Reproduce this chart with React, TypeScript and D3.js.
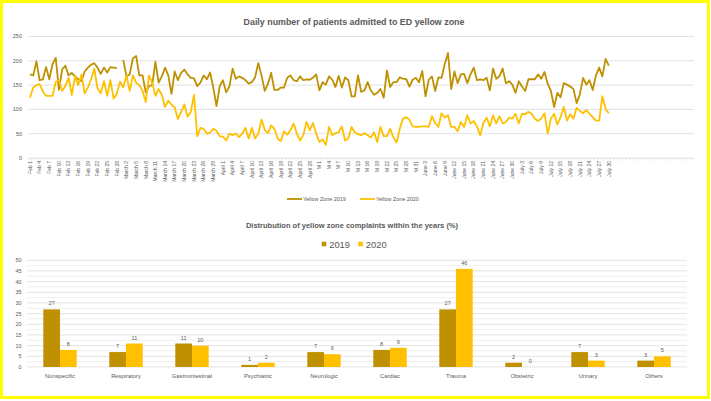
import React, { useEffect, useRef } from "react";
import * as d3 from "d3";

const dateLabels = [
  "Feb 1", "Feb 4", "Feb 7", "Feb 10", "Feb 13", "Feb 16", "Feb 19", "Feb 22", "Feb 25", "Feb 28",
  "March 2", "March 5", "March 8", "March 11", "March 14", "March 17", "March 20", "March 23", "March 26", "March 29",
  "April 1", "April 4", "April 7", "April 10", "April 13", "April 16", "April 19", "April 22", "April 25", "April 28",
  "M 1", "M 4", "M 7", "M 10", "M 13", "M 16", "M 19", "M 22", "M 25", "M 28", "M 31",
  "June 3", "June 6", "June 9", "June 12", "June 15", "June 18", "June 21", "June 24", "June 27", "June 30",
  "July 3", "July 6", "July 9", "July 12", "July 15", "July 18", "July 21", "July 24", "July 27", "July 30",
];

const zone2019: (number | null)[] = [
  172, 170, 199, 160, 162, 187, 162, 193, 206, 140,
  182, 190, 170, 175, 168, 162, 158, 178, 186, 192,
  195, 186, 173, 186, 176, 187, 186, 185, null, 202,
  168, 172, 205, 210, 170, 170, 135, 148, 150, 198,
  155, 168, 186, 170, 132, 178, 160, 175, 182, 172,
  165, 164, 148, 155, 170, 162, 176, 145, 107, 148,
  160, 135, 147, 184, 163, 168, 165, 160, 153, 156,
  166, 195, 170, 138, 153, 175, 140, 140, 145, 145,
  165, 170, 160, 158, 168, 160, 162, 161, 165, 172,
  139, 156, 151, 168, 161, 146, 169, 145, 166, 160,
  127, 127, 170, 136, 139, 156, 139, 130, 134, 142,
  124, 180, 146, 156, 156, 166, 163, 163, 147, 161,
  165, 156, 179, 127, 161, 168, 138, 166, 165, 194,
  216, 142, 178, 154, 172, 173, 154, 172, 186, 160,
  162, 160, 165, 139, 184, 163, 168, 184, 154, 158,
  151, 134, 158, 147, 138, 162, 162, 162, 172, 163,
  177, 153, 138, 105, 134, 125, 154, 151, 147, 142,
  113, 131, 165, 151, 160, 140, 170, 186, 168, 204,
  190,
];

const zone2020: (number | null)[] = [
  124, 145, 150, 152, 137, 128, 128, 128, 157, 160,
  138, 148, 165, 130, 168, 150, 172, 133, 145, 162,
  184, 143, 133, 158, 128, 160, 122, 132, 157, 145,
  170, 138, 170, 155, 150, 138, 115, 170, 155, 128,
  142, 130, 105, 118, 110, 104, 80, 95, 110, 85,
  95, 130, 45, 62, 60, 50, 52, 60, 56, 45,
  44, 36, 50, 47, 51, 43, 50, 62, 40, 62,
  40, 50, 79, 58, 51, 67, 60, 40, 35, 55,
  48, 57, 71, 50, 36, 47, 74, 57, 72, 50,
  33, 38, 27, 64, 47, 51, 53, 65, 36, 40,
  64, 53, 49, 47, 51, 47, 42, 53, 33, 64,
  45, 45, 60, 43, 32, 60, 81, 84, 79, 65,
  64, 64, 65, 65, 64, 86, 72, 64, 92, 83,
  88, 64, 64, 55, 74, 64, 88, 71, 76, 65,
  47, 72, 83, 65, 88, 71, 86, 71, 74, 83,
  81, 91, 71, 91, 90, 95, 91, 81, 76, 81,
  92, 50, 81, 91, 69, 84, 105, 77, 90, 81,
  103, 97, 92, 99, 91, 84, 77, 77, 127, 101,
  92,
];

const lineTicks = [0, 50, 100, 150, 200, 250];
const seriesNames = ["Yellow Zone 2019", "Yellow Zone 2020"];

const complaintCats = [
  "Nonspecific", "Respiratory", "Gastrointestinal", "Psychiatric", "Neurologic",
  "Cardiac", "Trauma", "Obstetric", "Urinary", "Others",
];
const share2019 = [27, 7, 11, 1, 7, 8, 27, 2, 7, 3];
const share2020 = [8, 11, 10, 2, 6, 9, 46, 0, 3, 5];
const barTicks = [0, 5, 10, 15, 20, 25, 30, 35, 40, 45, 50];
const yearNames = ["2019", "2020"];

const C2019 = "#BF9000";
const C2020 = "#FFC000";
const TXT = "#595959";
const GRID = "#D9D9D9";
const FONT = "'Liberation Sans', Arial, sans-serif";

export default function App() {
  const ref = useRef<SVGSVGElement>(null);

  useEffect(() => {
    const svg = d3.select(ref.current!);
    svg.selectAll("*").remove();
    svg.attr("font-family", FONT);

    svg.append("rect").attr("width", 711).attr("height", 401).attr("fill", "#fff");
    svg.append("rect").attr("x", 1.5).attr("y", 1.5).attr("width", 707).attr("height", 396)
      .attr("fill", "none").attr("stroke", "#FFFF00").attr("stroke-width", 3);

    // ---------- Line chart ----------
    const nCats = 207;
    const x = d3.scaleBand<number>().domain(d3.range(nCats)).range([28.4, 694]);
    const bw = x.bandwidth();
    const px = (i: number) => (x(i) as number) + bw / 2;
    const y = d3.scaleLinear().domain([0, 250]).range([158, 36.5]);

    svg.append("text").attr("x", 354).attr("y", 24.5).attr("text-anchor", "middle")
      .attr("font-size", 8.9).attr("font-weight", "bold").attr("fill", TXT)
      .text("Daily number of patients admitted to ED yellow zone");

    const g1 = svg.append("g");
    lineTicks.forEach((t) => {
      g1.append("line").attr("x1", 28.4).attr("x2", 694).attr("y1", y(t)).attr("y2", y(t))
        .attr("stroke", GRID).attr("stroke-width", 0.8);
      g1.append("text").attr("x", 22).attr("y", y(t)).attr("dy", "0.35em").attr("text-anchor", "end")
        .attr("font-size", 5.5).attr("fill", TXT).text(t);
    });
    for (let k = 0; k <= nCats; k++) {
      const xx = 28.4 + k * bw;
      g1.append("line").attr("x1", xx).attr("x2", xx).attr("y1", y(0)).attr("y2", y(0) + 2.5)
        .attr("stroke", GRID).attr("stroke-width", 0.6);
    }
    dateLabels.forEach((lab, j) => {
      g1.append("text").attr("transform", `translate(${px(j * 3)},161) rotate(-90)`)
        .attr("dy", "0.35em").attr("text-anchor", "end").attr("font-size", 5).attr("fill", TXT).text(lab);
    });

    const line = d3.line<number | null>()
      .defined((d) => d != null)
      .x((_, i) => px(i))
      .y((d) => y(d as number));

    g1.append("path").datum(zone2019).attr("d", line).attr("fill", "none")
      .attr("stroke", C2019).attr("stroke-width", 1.8).attr("stroke-linejoin", "round");
    g1.append("path").datum(zone2020).attr("d", line).attr("fill", "none")
      .attr("stroke", C2020).attr("stroke-width", 1.8).attr("stroke-linejoin", "round");

    // line legend
    const legPos = [287, 360];
    [C2019, C2020].forEach((c, k) => {
      g1.append("line").attr("x1", legPos[k]).attr("x2", legPos[k] + 15).attr("y1", 199).attr("y2", 199)
        .attr("stroke", c).attr("stroke-width", 1.8);
      g1.append("text").attr("x", legPos[k] + 16).attr("y", 199).attr("dy", "0.35em")
        .attr("font-size", 5.4).attr("fill", TXT).text(seriesNames[k]);
    });

    // ---------- Bar chart ----------
    const xb = d3.scaleBand<string>().domain(complaintCats).range([27, 687])
      .paddingInner(0.494).paddingOuter(0.247);
    const xs = d3.scaleBand<string>().domain(yearNames).range([0, xb.bandwidth()]);
    const yb = d3.scaleLinear().domain([0, 50]).range([367, 260.3]);

    svg.append("text").attr("x", 352).attr("y", 227.5).attr("text-anchor", "middle")
      .attr("font-size", 7.5).attr("font-weight", "bold").attr("fill", TXT)
      .text("Distrubution of yellow zone complaints within the years (%)");

    const g2 = svg.append("g");
    d3.range(0, 50.01, 2.5).forEach((t) => {
      g2.append("line").attr("x1", 27).attr("x2", 687).attr("y1", yb(t)).attr("y2", yb(t))
        .attr("stroke", t % 5 === 0 ? GRID : "#E8E8E8").attr("stroke-width", 0.7);
    });
    barTicks.forEach((t) => {
      g2.append("text").attr("x", 21.5).attr("y", yb(t)).attr("dy", "0.35em").attr("text-anchor", "end")
        .attr("font-size", 5.5).attr("fill", TXT).text(t);
    });

    const series = [share2019, share2020];
    const colors = [C2019, C2020];
    complaintCats.forEach((cat, ci) => {
      const cx = (xb(cat) as number) + xb.bandwidth() / 2;
      series.forEach((s, si) => {
        const v = s[ci];
        const bx = (xb(cat) as number) + (xs(yearNames[si]) as number);
        g2.append("rect").attr("x", bx).attr("y", yb(v)).attr("width", xs.bandwidth())
          .attr("height", yb(0) - yb(v)).attr("fill", colors[si]);
        g2.append("text").attr("x", bx + xs.bandwidth() / 2).attr("y", yb(v) - 4)
          .attr("text-anchor", "middle").attr("font-size", 5.5).attr("fill", TXT).text(v);
      });
      g2.append("text").attr("x", cx).attr("y", 377.8).attr("text-anchor", "middle")
        .attr("font-size", 5.8).attr("fill", TXT).text(cat);
    });

    // bar legend
    const bl = [321.7, 358.3];
    yearNames.forEach((nm, k) => {
      g2.append("rect").attr("x", bl[k]).attr("y", 241.7).attr("width", 4.6).attr("height", 4.6)
        .attr("fill", colors[k]);
      g2.append("text").attr("x", bl[k] + 7.5).attr("y", 247.6).attr("font-size", 9.4)
        .attr("fill", TXT).text(nm);
    });
  }, []);

  return (
    <svg ref={ref} width={711} height={401}
      style={{ position: "fixed", left: 0, top: 0, display: "block" }} />
  );
}
